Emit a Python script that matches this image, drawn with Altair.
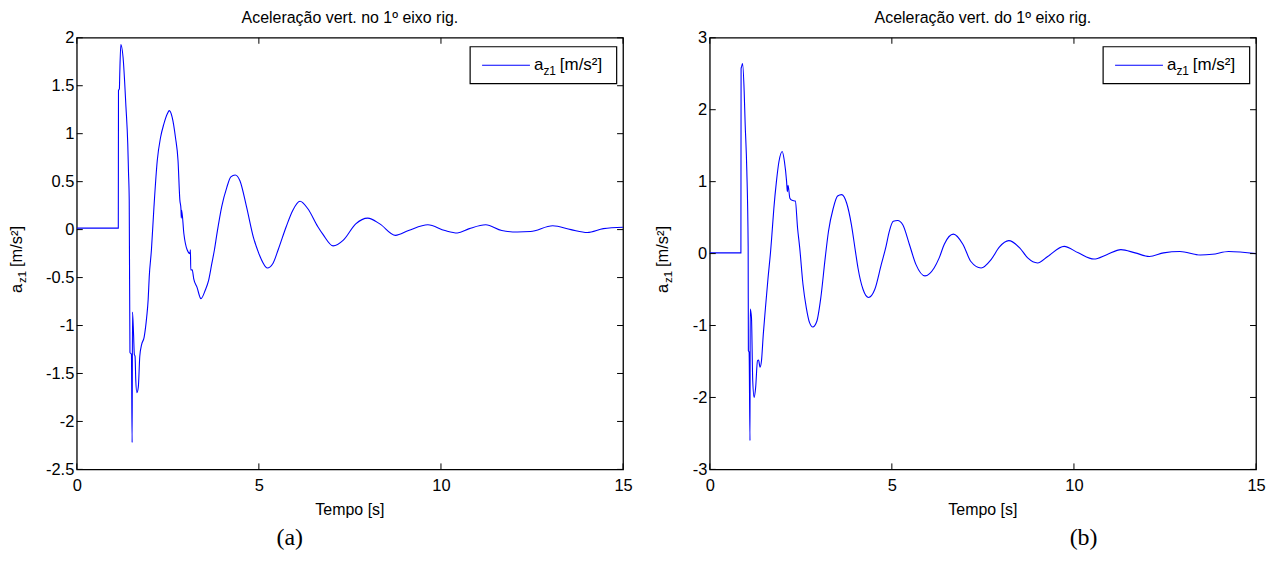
import altair as alt
import pandas as pd

# ---------------- data ----------------
t_a = [0.00, 1.14, 1.145, 1.17, 1.18, 1.21, 1.27, 1.35, 1.40, 1.42, 1.44, 1.46, 1.50, 1.52, 1.53,
       1.56, 1.58, 1.60, 1.62, 1.65, 1.69, 1.73, 1.78, 1.85, 1.92, 1.96, 1.99, 2.05, 2.12, 2.21,
       2.30, 2.39, 2.49, 2.54, 2.62, 2.71, 2.78, 2.83, 2.86, 2.87, 2.88, 2.94, 3.03, 3.11, 3.12,
       3.13, 3.17, 3.21, 3.30, 3.41, 3.53, 3.62, 3.71, 3.78, 3.85, 3.98, 4.12, 4.23, 4.35, 4.48,
       4.66, 4.85, 5.00, 5.12, 5.23, 5.39, 5.53, 5.75, 5.93, 6.13, 6.34, 6.62, 6.76, 7.04, 7.32,
       7.66, 7.99, 8.32, 8.75, 9.11, 9.64, 10.11, 10.45, 10.78, 11.23, 11.67, 12.10, 12.46, 13.07,
       13.57, 14.02, 14.46, 15.00]
v_a = [0.015, 0.015, 1.45, 1.47, 1.62, 1.93, 1.80, 1.28, 0.89, 0.60, 0.31, -1.28, -1.30, -2.22, -0.86,
       -1.10, -1.30, -1.32, -1.57, -1.70, -1.64, -1.32, -1.20, -1.12, -0.91, -0.73, -0.49, -0.21, 0.24, 0.72,
       0.96, 1.10, 1.21, 1.24, 1.17, 0.96, 0.72, 0.31, 0.22, 0.12, 0.20, -0.04, -0.21, -0.25, -0.21,
       -0.42, -0.42, -0.51, -0.60, -0.72, -0.63, -0.53, -0.35, -0.21, -0.04, 0.24, 0.44, 0.55, 0.57, 0.51,
       0.24, -0.08, -0.25, -0.35, -0.40, -0.35, -0.21, 0.03, 0.20, 0.295, 0.22, 0.03, -0.05, -0.17, -0.11,
       0.06, 0.12, 0.06, -0.06, -0.01, 0.05, -0.01, -0.035, 0.01, 0.05, -0.01, -0.025, -0.02, 0.04,
       0.0, -0.03, 0.01, 0.025]

t_b = [0.00, 0.855, 0.86, 0.875, 0.90, 0.945, 0.97, 1.017, 1.054, 1.06, 1.08, 1.105, 1.11, 1.145, 1.18,
       1.22, 1.26, 1.31, 1.34, 1.38, 1.42, 1.47, 1.53, 1.60, 1.67, 1.70, 1.76, 1.83, 1.90, 1.99,
       2.05, 2.11, 2.13, 2.15, 2.20, 2.26, 2.35, 2.41, 2.47, 2.56, 2.65, 2.74, 2.83, 2.94, 3.05,
       3.17, 3.26, 3.39, 3.51, 3.62, 3.76, 3.89, 4.00, 4.07, 4.21, 4.36, 4.53, 4.71, 4.84, 4.93,
       5.04, 5.16, 5.30, 5.48, 5.66, 5.91, 6.16, 6.30, 6.44, 6.69, 6.95, 7.17, 7.45, 7.73, 7.95,
       8.21, 8.51, 8.73, 9.00, 9.28, 9.73, 10.12, 10.55, 10.90, 11.29, 11.68, 12.07, 12.46, 12.91,
       13.47, 13.80, 14.25, 15.00]
v_b = [0.01, 0.01, 2.57, 2.60, 2.64, 2.25, 1.83, 1.16, 0.10, -1.35, -1.37, -2.60, -0.77, -0.89, -1.77,
       -2.00, -1.86, -1.49, -1.48, -1.58, -1.49, -1.12, -0.75, -0.34, 0.03, 0.22, 0.63, 1.00, 1.28, 1.42,
       1.28, 1.00, 0.86, 0.95, 0.77, 0.74, 0.73, 0.36, 0.08, -0.43, -0.75, -0.96, -1.02, -0.94, -0.61,
       -0.06, 0.31, 0.63, 0.80, 0.82, 0.70, 0.40, 0.03, -0.20, -0.50, -0.61, -0.50, -0.15, 0.10, 0.31,
       0.45, 0.46, 0.40, 0.13, -0.15, -0.31, -0.20, -0.06, 0.13, 0.27, 0.13, -0.11, -0.20, -0.08, 0.09,
       0.18, 0.08, -0.06, -0.13, -0.04, 0.10, 0.01, -0.075, -0.015, 0.055, 0.01, -0.04, 0.01, 0.03,
       -0.02, -0.01, 0.03, 0.00]

x_ticks = [0, 5, 10, 15]
y_ticks_a = [-2.5, -2, -1.5, -1, -0.5, 0, 0.5, 1, 1.5, 2]
y_ticks_b = [-3, -2, -1, 0, 1, 2, 3]
titles = ["Aceleração vert. no 1º eixo rig.", "Aceleração vert. do 1º eixo rig."]
captions = ["(a)", "(b)"]
x_label = "Tempo [s]"
legend_main, legend_sub, legend_unit = "a", "z1", "[m/s²]"

# ---------------- styling ----------------
W, H = 548, 433
FONT = "Liberation Sans"
SERIF = "Liberation Serif"
BLUE = "#0000ff"
TICK = 6
LBL = 16.5
one = pd.DataFrame({"k": [0]})


def txt(s, x, y, size, font=FONT, **kw):
    return alt.Chart(one).mark_text(text=s, fontSize=size, font=font, color="black", **kw).encode(
        x=alt.value(x), y=alt.value(y))


def panel(t, v, yticks, ydom, title, caption, cap_x, ytitle_x):
    df = pd.DataFrame({"t": t, "v": v})
    xs = alt.Scale(domain=[0, 15], nice=False, zero=False)
    ys = alt.Scale(domain=ydom, nice=False, zero=False)
    xax = alt.Axis(values=x_ticks, ticks=False, tickSize=0, domain=False, grid=False, labelFont=FONT,
                   labelFontSize=LBL, labelColor="black", labelPadding=8, title=None,
                   labelFlush=False, labelExpr="toString(datum.value)")
    yax = alt.Axis(values=yticks, ticks=False, tickSize=0, domain=False, grid=False, labelFont=FONT,
                   labelFontSize=LBL, labelColor="black", labelPadding=3, title=None,
                   labelExpr="toString(datum.value)")
    X = alt.X("t:Q", scale=xs, axis=xax)
    Y = alt.Y("v:Q", scale=ys, axis=yax)

    line = alt.Chart(df).mark_line(color=BLUE, strokeWidth=1.1, interpolate="monotone",
                                   clip=True).encode(x=X, y=Y)

    ydf = pd.DataFrame({"v": yticks})
    xdf = pd.DataFrame({"t": x_ticks})
    yl = alt.Chart(ydf).mark_rule(color="black", strokeWidth=1).encode(
        x=alt.value(0), x2=alt.value(TICK), y=Y)
    yr = alt.Chart(ydf).mark_rule(color="black", strokeWidth=1).encode(
        x=alt.value(W - TICK), x2=alt.value(W), y=Y)
    xb = alt.Chart(xdf).mark_rule(color="black", strokeWidth=1).encode(
        x=X, y=alt.value(H - TICK), y2=alt.value(H))
    xt = alt.Chart(xdf).mark_rule(color="black", strokeWidth=1).encode(
        x=X, y=alt.value(0), y2=alt.value(TICK))

    # legend box
    lx0, lx1 = W - 153.4, W - 6.4
    box = alt.Chart(one).mark_rect(fill="white", stroke="black", strokeWidth=1.2).encode(
        x=alt.value(lx0), x2=alt.value(lx1), y=alt.value(9), y2=alt.value(46))
    lline = alt.Chart(one).mark_rule(color=BLUE, strokeWidth=1.1).encode(
        x=alt.value(lx0 + 12), x2=alt.value(lx0 + 60), y=alt.value(27.5))
    la = txt(legend_main, lx0 + 64, 32, 17, align="left", baseline="alphabetic")
    lz = txt(legend_sub, lx0 + 73.5, 37, 12, align="left", baseline="alphabetic")
    lu = txt(legend_unit, lx0 + 90, 32, 17, align="left", baseline="alphabetic")

    # rotated y title made of pieces
    ya = txt(legend_main, ytitle_x, 256, 16.5, align="left", baseline="alphabetic", angle=270)
    yz = txt(legend_sub, ytitle_x, 256, 11.5, align="left", baseline="alphabetic", angle=270, dx=10, dy=4)
    yu = txt(legend_unit, ytitle_x, 256, 16.5, align="left", baseline="alphabetic", angle=270, dx=26)

    ttl = txt(title, W / 2, -20, 16, align="center", baseline="middle")
    xl = txt(x_label, W / 2, 474, 16, align="center", baseline="middle")
    cap = txt(caption, cap_x, 509, 24, font=SERIF, align="center", baseline="alphabetic")

    return alt.layer(line, yl, yr, xb, xt, box, lline, la, lz, lu, ya, yz, yu, ttl, xl, cap).properties(
        width=W, height=H)


left = panel(t_a, v_a, y_ticks_a, [-2.5, 2], titles[0], captions[0], 213.6, -55)
right = panel(t_b, v_b, y_ticks_b, [-3, 3], titles[1], captions[1], 375, -41.5)

chart = alt.hconcat(left, right).properties(padding=0, background="white").configure_view(
    stroke="black", strokeWidth=1.3).configure_concat(spacing=21)

chart.save("out.html", embed_options={"renderer": "svg", "actions": False})
